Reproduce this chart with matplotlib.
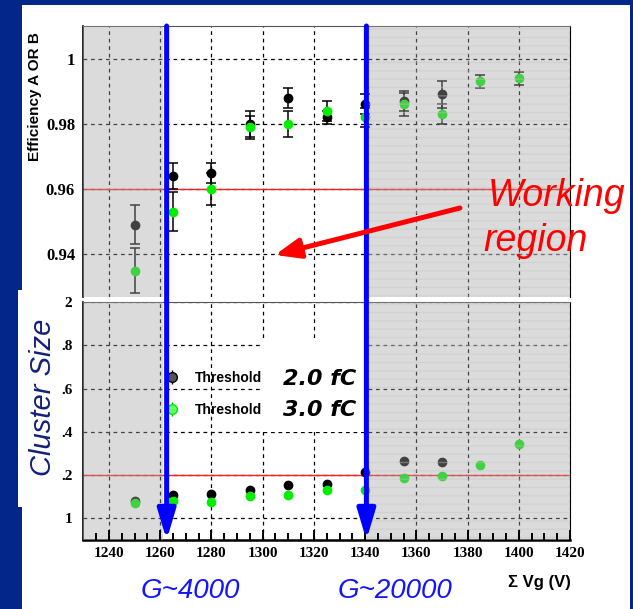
import numpy as np
import matplotlib
matplotlib.use("Agg")
import matplotlib.pyplot as plt
from matplotlib.patches import Rectangle, FancyArrowPatch
from matplotlib.ticker import MultipleLocator, FixedLocator, FixedFormatter
from matplotlib.transforms import blended_transform_factory

# --- data ---
vg_black = [1250, 1265, 1280, 1295, 1310, 1325, 1340, 1355, 1370]
vg_green = [1250, 1265, 1280, 1295, 1310, 1325, 1340, 1355, 1370, 1385, 1400]

eff_black = [0.949, 0.964, 0.965, 0.980, 0.988, 0.982, 0.986, 0.987, 0.989]
eff_black_err = [0.006, 0.004, 0.003, 0.004, 0.003, 0.002, 0.003, 0.003, 0.004]
eff_green = [0.935, 0.953, 0.960, 0.979, 0.980, 0.984, 0.982, 0.986, 0.983, 0.993, 0.994]
eff_green_err = [0.007, 0.006, 0.005, 0.0035, 0.004, 0.003, 0.003, 0.0035, 0.003, 0.002, 0.002]

cls_black = [1.081, 1.107, 1.112, 1.131, 1.152, 1.158, 1.213, 1.263, 1.262]
cls_green = [1.069, 1.081, 1.075, 1.103, 1.110, 1.133, 1.129, 1.187, 1.196, 1.246, 1.345]

eff_ticks = [0.94, 0.96, 0.98, 1.0]
eff_ticklabels = ['0.94', '0.96', '0.98', '1']
cls_ticks = [1.0, 1.2, 1.4, 1.6, 1.8, 2.0]
cls_ticklabels = ['1', '.2', '.4', '.6', '.8', '2']
x_ticks = [1240, 1260, 1280, 1300, 1320, 1340, 1360, 1380, 1400, 1420]
x_minor = np.arange(1235, 1420, 5)
thresholds = ['2.0 fC', '3.0 fC']

W, H = 633, 609
def fx(x):
    return x / W
def fy(y):
    return 1 - y / H

fig = plt.figure(figsize=(W / 100, H / 100), dpi=100)
fig.patch.set_facecolor('#03268a')
# white slide area
fig.add_artist(Rectangle((fx(22), 0), fx(630) - fx(22), fy(5), transform=fig.transFigure,
                         facecolor='white', edgecolor='none', zorder=0))
fig.add_artist(Rectangle((fx(18), fy(507)), fx(4), fy(290) - fy(507), transform=fig.transFigure,
                         facecolor='white', edgecolor='none', zorder=0))

left, right = 83.4, 570
ax1 = fig.add_axes([fx(left), fy(297), fx(right - left), fy(26) - fy(297)])
ax2 = fig.add_axes([fx(left), fy(540), fx(right - left), fy(302) - fy(540)])

tick_font = dict(family='Liberation Serif', weight='bold')
grid_kw = dict(color='black', linestyle=(0, (3, 3)), linewidth=0.9, zorder=1)
shade = (0.65, 0.65, 0.65)

for ax, yt in ((ax1, eff_ticks), (ax2, cls_ticks)):
    ax.set_xlim(1230, 1420)
    ax.set_facecolor('white')
    ax.xaxis.set_major_locator(FixedLocator(x_ticks))
    # dashed grid, kept under the grey shading
    for xv in x_ticks:
        ax.axvline(xv, **grid_kw)
    for yv in yt:
        ax.axhline(yv, **grid_kw)
    ax.spines['right'].set_color('black')
    ax.spines['left'].set_color('black')
    ax.spines['left'].set_linewidth(1.2)
    ax.spines['top'].set_color('#555555')
    ax.axvspan(1230, 1261, facecolor=shade, alpha=0.4, lw=0, zorder=4)
    ax.axvspan(1340, 1420, facecolor=shade, edgecolor='#c4c4c4', hatch='--',
               alpha=0.4, lw=0, zorder=4)

# --- top panel: efficiency ---
ax1.set_ylim(0.9269, 1.0100)
ax1.yaxis.set_major_locator(FixedLocator(eff_ticks))
ax1.yaxis.set_major_formatter(FixedFormatter(eff_ticklabels))
ax1.spines['bottom'].set_visible(False)
ax1.tick_params(axis='x', which='both', length=0, labelbottom=False)
ax1.tick_params(axis='y', length=0, pad=6, labelsize=12)
for lab in ax1.get_yticklabels():
    lab.set(**tick_font)
ax1.axhline(0.96, color='#ff2020', lw=1, zorder=2)
ax1.errorbar(vg_black, eff_black, yerr=eff_black_err, fmt='o', color='black', ms=6,
             ecolor='black', elinewidth=1.1, capsize=3.5, capthick=1.1, zorder=3)
ax1.errorbar(vg_green, eff_green, yerr=eff_green_err, fmt='o', color='#00ee00', ms=6,
             ecolor='black', elinewidth=1.1, capsize=3.5, capthick=1.1, zorder=3)

# --- bottom panel: cluster size ---
ax2.set_ylim(0.9, 2.0)
ax2.yaxis.set_major_locator(FixedLocator(cls_ticks))
ax2.yaxis.set_major_formatter(FixedFormatter(cls_ticklabels))
ax2.spines['bottom'].set_linewidth(1.8)
ax2.tick_params(axis='y', length=0, pad=8, labelsize=11)
ax2.tick_params(axis='x', which='both', length=0, pad=5, labelsize=11)
for lab in ax2.get_yticklabels() + ax2.get_xticklabels():
    lab.set(**tick_font)
# inward tick marks, drawn above the grey shading (ROOT style)
xtr = blended_transform_factory(ax2.transData, ax2.transAxes)
ax2.vlines(x_ticks, 0, 10 / 238, transform=xtr, color='black', lw=1.4, zorder=4.6, clip_on=False)
ax2.vlines(x_minor, 0, 7 / 238, transform=xtr, color='black', lw=1.4, zorder=4.6, clip_on=False)
ax2.axhline(1.2, color='#ff2020', lw=1, zorder=2)
ax2.errorbar(vg_black, cls_black, fmt='o', color='black', ms=6, zorder=3)
ax2.errorbar(vg_green, cls_green, fmt='o', color='#00ee00', ms=6, zorder=3)

# legend-like labels
lh1 = ax2.errorbar([], [], yerr=[], fmt='o', color='black', mfc='#555555', ms=7,
                   ecolor='black', elinewidth=1)
lh2 = ax2.errorbar([], [], yerr=[], fmt='o', color='#00ee00', mfc='#66ff66', ms=7,
                   ecolor='#00aa00', elinewidth=1)
leg = ax2.legend([lh1, lh2], ['Threshold', 'Threshold'], loc='upper left',
                 bbox_to_anchor=((166 - left) / (right - left), (540 - 371) / 238),
                 frameon=False, borderpad=0, borderaxespad=0, handlelength=0.8,
                 handletextpad=1.3, labelspacing=1.3,
                 prop=dict(family='Liberation Sans', weight='bold', size=10))
leg.set_zorder(3.6)
ax2.add_patch(Rectangle((1299.7, 1.397), 40.7, 0.435, facecolor='white', edgecolor='none', zorder=3.5))
for lab, yv in zip(thresholds, [1.645, 1.502]):
    ax2.text(1308, yv, lab, fontsize=16, fontweight='bold', fontstyle='italic',
             family='DejaVu Sans', va='center', ha='left', zorder=3.6)

# blue arrows spanning both panels
btr = blended_transform_factory(ax2.transData, fig.transFigure)
for xv in (1262.5, 1340.5):
    fig.add_artist(FancyArrowPatch((xv, fy(26)), (xv, fy(540)), transform=btr,
                                   arrowstyle='-|>,head_length=1.0,head_width=0.3',
                                   mutation_scale=18, color='#0000ff', lw=3.6,
                                   shrinkA=0, shrinkB=0, zorder=5))

# red arrow and annotation
fig.add_artist(FancyArrowPatch((fx(460), fy(208)), (fx(275), fy(255)), transform=fig.transFigure,
                               arrowstyle='-|>,head_length=1.0,head_width=0.4',
                               mutation_scale=15, color='red', lw=3.6,
                               shrinkA=0, shrinkB=0, zorder=5))
red_font = dict(color='red', fontstyle='italic', family='Liberation Sans', fontsize=27)
fig.text(fx(488), fy(196), 'Working', ha='left', va='center', **red_font)
fig.text(fx(483), fy(241), 'region', ha='left', va='center', **red_font)

# axis labels and captions
fig.text(fx(35), fy(97), 'Efficiency A OR B', rotation=90, ha='center', va='center',
         family='Liberation Sans', fontweight='bold', fontsize=11)
fig.text(fx(43), fy(397), 'Cluster Size', rotation=90, ha='center', va='center',
         family='Liberation Sans', fontstyle='italic', fontsize=21, color='#14207a')
fig.text(fx(539), fy(582), '\u03a3 Vg (V)', ha='center', va='center',
         family='Liberation Sans', fontweight='bold', fontsize=12)
blue_font = dict(color='#1414ff', fontstyle='italic', family='Liberation Sans', fontsize=20)
fig.text(fx(190), fy(591), 'G~4000', ha='center', va='center', **blue_font)
fig.text(fx(395), fy(591), 'G~20000', ha='center', va='center', **blue_font)

fig.savefig('out.png', dpi=100, facecolor=fig.get_facecolor())
